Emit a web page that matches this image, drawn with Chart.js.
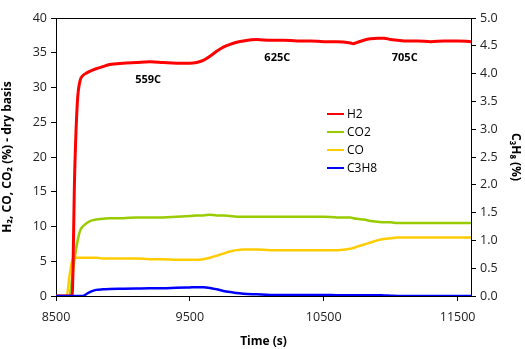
<!DOCTYPE html>
<html lang="en">
<head>
<meta charset="UTF-8">
<title>Gas composition</title>
<script src="https://cdn.jsdelivr.net/npm/chart.js"></script>
<style>
  body { margin: 0; background: #fff; }
</style>
</head>
<body>
<canvas id="chart" width="525" height="349"></canvas>
<script>
// time axis (s)
const time = [8500, 8580, 8600, 8620, 8640, 8660, 8680, 8700, 8730, 8760, 8800, 8850, 8900, 9000, 9100, 9200, 9300, 9400, 9500, 9550, 9600, 9650, 9700, 9750, 9800, 9850, 9900, 10000, 10100, 10200, 10300, 10400, 10500, 10600, 10700, 10720, 10750, 10800, 10850, 10900, 10950, 11000, 11050, 11100, 11200, 11300, 11400, 11500, 11600];

// left axis (%)
const h2  = [0, 0, 0, 0, 18, 28, 31, 31.7, 32.1, 32.4, 32.7, 33.0, 33.3, 33.5, 33.6, 33.7, 33.6, 33.5, 33.5, 33.6, 33.9, 34.5, 35.2, 35.8, 36.2, 36.5, 36.7, 36.9, 36.8, 36.8, 36.7, 36.7, 36.6, 36.6, 36.4, 36.3, 36.5, 36.8, 37.0, 37.1, 37.1, 36.9, 36.8, 36.7, 36.7, 36.6, 36.7, 36.7, 36.6];
const co2 = [0, 0, 0, 2.5, 5.5, 7.8, 9.4, 10.0, 10.5, 10.8, 11.0, 11.1, 11.2, 11.2, 11.3, 11.3, 11.3, 11.4, 11.5, 11.6, 11.6, 11.7, 11.6, 11.6, 11.5, 11.4, 11.4, 11.4, 11.4, 11.4, 11.4, 11.4, 11.4, 11.3, 11.3, 11.2, 11.1, 11.0, 10.8, 10.7, 10.6, 10.6, 10.5, 10.5, 10.5, 10.5, 10.5, 10.5, 10.5];
const co  = [0, 0, 2.8, 5.0, 5.5, 5.5, 5.5, 5.5, 5.5, 5.5, 5.5, 5.4, 5.4, 5.4, 5.4, 5.3, 5.3, 5.2, 5.2, 5.2, 5.3, 5.5, 5.8, 6.1, 6.4, 6.6, 6.7, 6.7, 6.6, 6.6, 6.6, 6.6, 6.6, 6.6, 6.8, 6.9, 7.1, 7.4, 7.7, 8.0, 8.2, 8.3, 8.4, 8.4, 8.4, 8.4, 8.4, 8.4, 8.4];
// right axis (%)
const c3h8 = [0, 0, 0, 0, 0, 0, 0, 0, 0.04, 0.08, 0.11, 0.12, 0.125, 0.13, 0.135, 0.14, 0.14, 0.15, 0.155, 0.157, 0.157, 0.145, 0.12, 0.09, 0.07, 0.055, 0.04, 0.03, 0.02, 0.02, 0.02, 0.02, 0.02, 0.015, 0.015, 0.015, 0.015, 0.015, 0.015, 0.015, 0.01, 0.005, 0, 0, 0, 0, 0, 0, 0];

const xTicks = [8500, 9500, 10500, 11500];
const tempLabels = [
  { text: '559C', x: 9188, y: 31.1 },
  { text: '625C', x: 10153, y: 34.3 },
  { text: '705C', x: 11105, y: 34.3 }
];

function pts(vals) { return time.map((t, i) => ({ x: t, y: vals[i] })); }

const tickFont = { family: 'Open Sans', size: 12.5 };
const titleFont = { family: 'Open Sans', size: 12, weight: 'bold' };

// temperature notes, top border and inside legend
const extras = {
  id: 'extras',
  afterDraw(chart) {
    const c = chart.ctx, a = chart.chartArea;
    const xs = chart.scales.x, ys = chart.scales.y;
    c.save();
    c.strokeStyle = '#000';
    c.lineWidth = 1;
    c.beginPath();
    c.moveTo(a.left, a.top + 0.5);
    c.lineTo(a.right, a.top + 0.5);
    c.stroke();

    c.fillStyle = '#000';
    c.font = 'bold 11px "Open Sans"';
    c.textAlign = 'center';
    c.textBaseline = 'middle';
    tempLabels.forEach(l => c.fillText(l.text, xs.getPixelForValue(l.x), ys.getPixelForValue(l.y)));

    // legend
    const lx = 327, ly = 114, gap = 18;
    c.font = '12px "Open Sans"';
    c.textAlign = 'left';
    chart.data.datasets.forEach((d, i) => {
      const y = ly + i * gap;
      c.strokeStyle = d.borderColor;
      c.lineWidth = 2;
      c.beginPath();
      c.moveTo(lx, y);
      c.lineTo(lx + 17, y);
      c.stroke();
      c.fillStyle = '#000';
      c.fillText(d.label, lx + 20, y + 1);
    });
    c.restore();
  }
};

new Chart(document.getElementById('chart'), {
  type: 'line',
  data: {
    datasets: [
      { label: 'H2', data: pts(h2), borderColor: '#ff0000', borderWidth: 3, yAxisID: 'y', order: 1 },
      { label: 'CO2', data: pts(co2), borderColor: '#99cc00', borderWidth: 2.5, yAxisID: 'y', order: 2 },
      { label: 'CO', data: pts(co), borderColor: '#ffcc00', borderWidth: 2.5, yAxisID: 'y', order: 3 },
      { label: 'C3H8', data: pts(c3h8), borderColor: '#0000ff', borderWidth: 2.5, yAxisID: 'y1', order: 0 }
    ]
  },
  options: {
    responsive: false,
    animation: false,
    events: [],
    layout: { padding: { top: 18, left: 0, right: 0, bottom: 0 } },
    elements: { point: { radius: 0 }, line: { tension: 0.3, cubicInterpolationMode: 'monotone' } },
    plugins: { legend: { display: false }, tooltip: { enabled: false } },
    scales: {
      x: {
        type: 'linear', min: 8500, max: 11600,
        afterBuildTicks: s => { s.ticks = xTicks.map(v => ({ value: v })); },
        afterFit: s => { s.height = 53; },
        border: { color: '#000', width: 1 },
        grid: { drawOnChartArea: false, tickLength: 5, color: '#000' },
        ticks: { font: tickFont, color: '#222', padding: 9, maxRotation: 0, callback: v => String(v) },
        title: { display: true, text: 'Time (s)', font: titleFont, color: '#000', padding: { top: 4, bottom: 0 } }
      },
      y: {
        position: 'left', min: 0, max: 40,
        afterFit: s => { s.width = 56; },
        border: { color: '#000', width: 1 },
        grid: { drawOnChartArea: false, tickLength: 5, color: '#000' },
        ticks: { stepSize: 5, font: tickFont, color: '#222', padding: 4 },
        title: { display: true, text: 'H₂, CO, CO₂ (%) - dry basis', font: titleFont, color: '#000', padding: { top: 0, bottom: 2 } }
      },
      y1: {
        position: 'right', min: 0, max: 5,
        afterFit: s => { s.width = 54; },
        border: { color: '#000', width: 1 },
        grid: { drawOnChartArea: false, tickLength: 5, color: '#000' },
        ticks: { stepSize: 0.5, font: tickFont, color: '#222', padding: 4, callback: v => v.toFixed(1) },
        title: { display: true, text: 'C₃H₈ (%)', font: titleFont, color: '#000', padding: { top: 2, bottom: 0 } }
      }
    }
  },
  plugins: [extras]
});
</script>
</body>
</html>
